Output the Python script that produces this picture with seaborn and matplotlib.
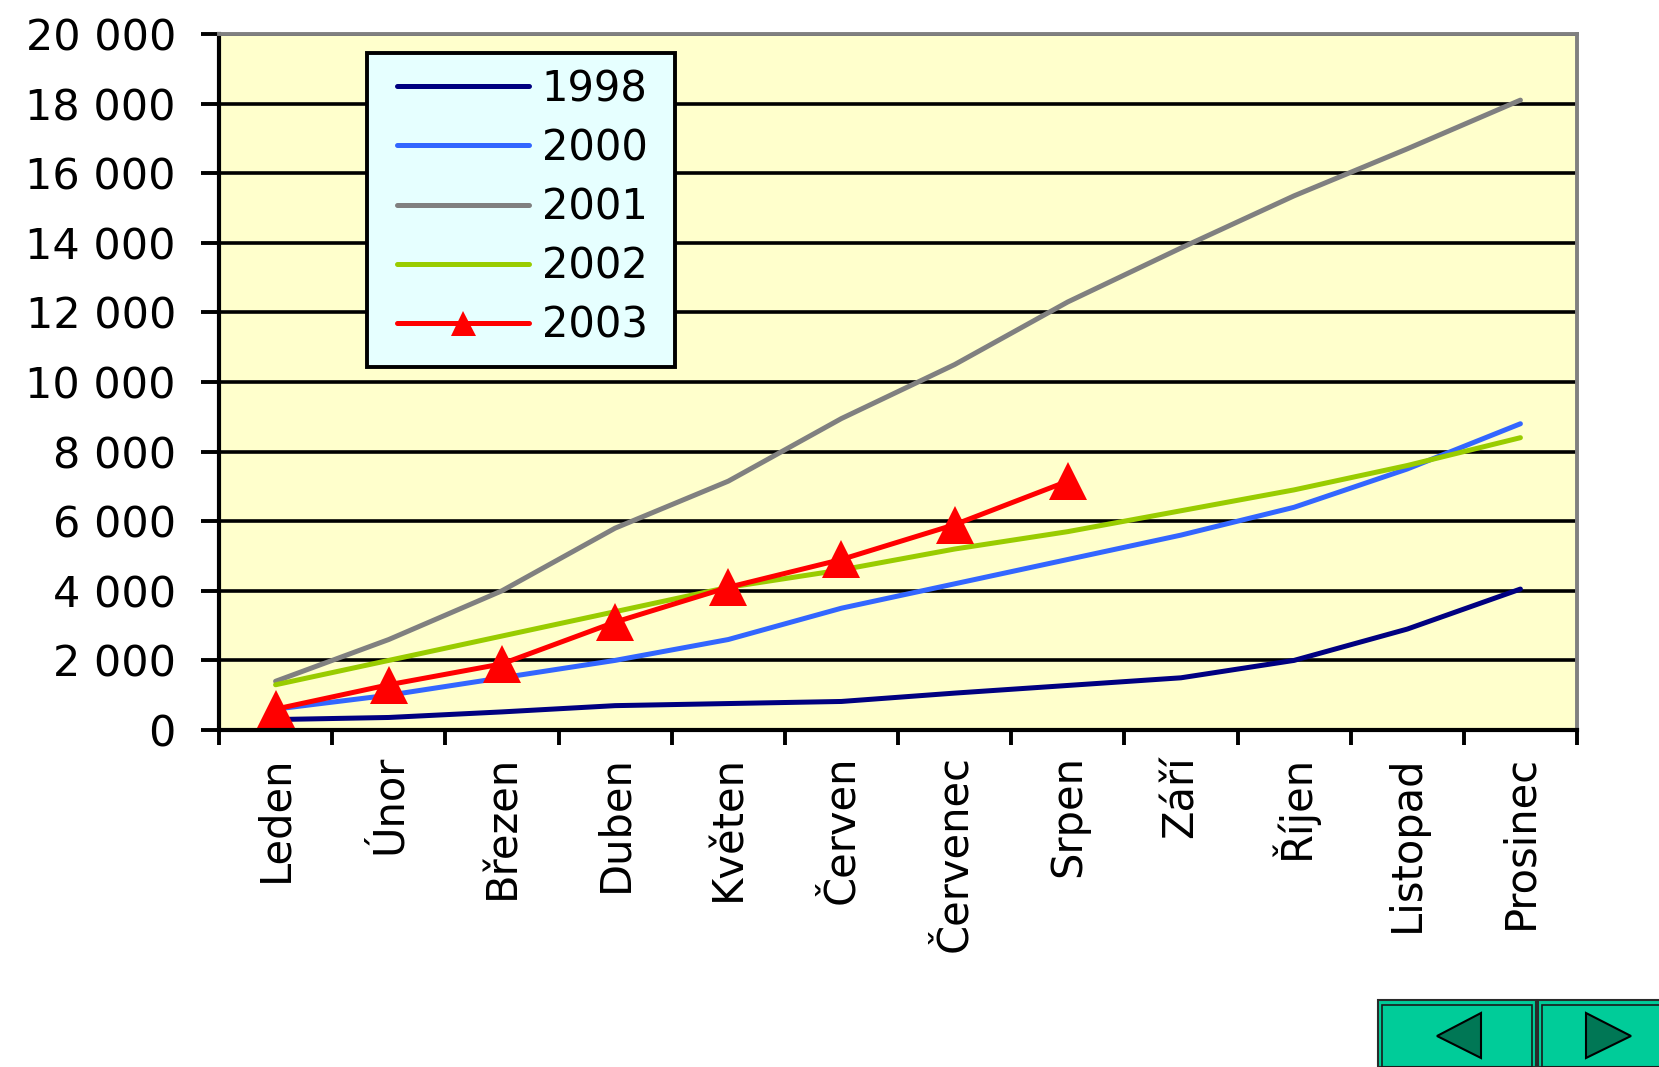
import numpy as np
import pandas as pd
import matplotlib
matplotlib.use("Agg")
import matplotlib.pyplot as plt
from matplotlib.patches import Rectangle, Polygon
from matplotlib.ticker import FuncFormatter, FixedLocator
import seaborn as sns

months = ["Leden", "Únor", "Březen", "Duben", "Květen", "Červen",
          "Červenec", "Srpen", "Září", "Říjen", "Listopad", "Prosinec"]

y1998 = [300, 360, 520, 700, 760, 820, 1060, 1280, 1500, 2000, 2900, 4050]
y2000 = [600, 1000, 1500, 2000, 2600, 3500, 4200, 4900, 5600, 6400, 7500, 8800]
y2001 = [1400, 2600, 4000, 5800, 7150, 8950, 10500, 12300, 13850, 15350, 16700, 18100]
y2002 = [1300, 2000, 2700, 3400, 4100, 4600, 5200, 5700, 6300, 6900, 7600, 8400]
y2003 = [600, 1300, 1900, 3100, 4100, 4900, 5900, 7150]

series = {"1998": y1998, "2000": y2000, "2001": y2001, "2002": y2002, "2003": y2003}
colors = {"1998": "#000080", "2000": "#3366FF", "2001": "#808080",
          "2002": "#99CC00", "2003": "#FF0000"}

rows = []
for year, vals in series.items():
    for m, v in zip(months, vals):
        rows.append({"month": m, "year": year, "value": v})
df = pd.DataFrame(rows)

sns.set_style("white")
plt.rcParams["font.family"] = ["DejaVu Sans"]
plt.rcParams["text.color"] = "black"
plt.rcParams["xtick.color"] = "black"
plt.rcParams["ytick.color"] = "black"

W, H = 1659, 1067
fig = plt.figure(figsize=(W / 100, H / 100), dpi=100)
ax = fig.add_axes([219 / W, 1 - 730 / H, (1577 - 219) / W, (730 - 34) / H])
ax.set_facecolor("#FFFFCC")

for year in series:
    sub = df[df["year"] == year]
    kw = dict(marker="^", markersize=27, markeredgewidth=0) if year == "2003" else {}
    sns.lineplot(data=sub, x="month", y="value", ax=ax, color=colors[year],
                 linewidth=3.6, label=year, sort=False, **kw)

ax.set_xlim(-0.5, 11.5)
ax.set_ylim(0, 20000)
ax.set_xlabel("")
ax.set_ylabel("")

ax.set_yticks(np.arange(0, 20001, 2000))
ax.yaxis.set_major_formatter(FuncFormatter(lambda v, p: f"{int(v):,}".replace(",", " ")))
ax.grid(axis="y", color="black", linewidth=2.6)
ax.set_axisbelow(True)

ax.set_xticks(range(12))
ax.set_xticklabels(months, rotation=90)
ax.xaxis.set_minor_locator(FixedLocator(np.arange(-0.5, 12, 1)))
ax.tick_params(axis="x", which="major", length=0, pad=18, labelsize=30)
ax.tick_params(axis="x", which="minor", length=11, width=2.8, color="black", bottom=True)
ax.tick_params(axis="y", which="major", length=13, width=2.8, color="black",
               pad=18, labelsize=31, left=True)

for side in ["left", "bottom"]:
    ax.spines[side].set_color("black")
    ax.spines[side].set_linewidth(3)
for side in ["top", "right"]:
    ax.spines[side].set_color("#808080")
    ax.spines[side].set_linewidth(2.8)

# legend box drawn by hand so the inner padding can match
ax.add_patch(Rectangle((367 / W, 1 - 367 / H), (675 - 367) / W, (367 - 53) / H,
                       transform=fig.transFigure, facecolor="#E6FFFF",
                       edgecolor="black", linewidth=2.8, zorder=4, clip_on=False))
leg = ax.legend(loc="upper left", bbox_to_anchor=(397 / W, 1 - 68 / H),
                bbox_transform=fig.transFigure, borderaxespad=0, fontsize=30,
                handlelength=3.17, handletextpad=0.3, labelspacing=0.41,
                borderpad=0, frameon=False)
leg.set_zorder(5)
for h in leg.legend_handles:
    h.set_linewidth(3.6)
    if h.get_marker() not in (None, "None", ""):
        h.set_markersize(18)


def px(x, y):
    return (x / W, 1 - y / H)


# navigation buttons bottom right
for x0, x1 in [(1378, 1536), (1538, 1670)]:
    fig.patches.append(Rectangle(px(x0, 1067), (x1 - x0) / W, 67 / H,
                                 transform=fig.transFigure, facecolor="#00CC99",
                                 edgecolor="#2a2a2a", linewidth=1.5))
    fig.patches.append(Rectangle(px(x0 + 4, 1067), (x1 - x0 - 8) / W, 62 / H,
                                 transform=fig.transFigure, facecolor="none",
                                 edgecolor="#1a1a1a", linewidth=1.2))
fig.patches.append(Polygon([px(1437, 1036), px(1481, 1013), px(1481, 1058)],
                           closed=True, transform=fig.transFigure,
                           facecolor="#007755", edgecolor="black", linewidth=1.5))
fig.patches.append(Polygon([px(1586, 1013), px(1586, 1058), px(1631, 1036)],
                           closed=True, transform=fig.transFigure,
                           facecolor="#007755", edgecolor="black", linewidth=1.5))

fig.savefig("out.png", dpi=100, facecolor="white")
